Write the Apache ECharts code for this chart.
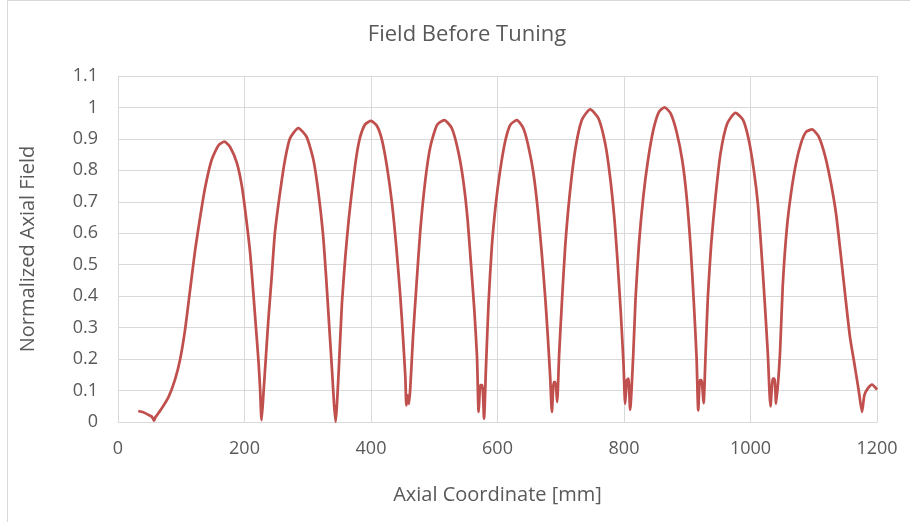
<!DOCTYPE html>
<html>
<head>
<meta charset="utf-8">
<script src="https://cdn.jsdelivr.net/npm/echarts/dist/echarts.min.js"></script>
<style>
	html, body { margin: 0; padding: 0; background: #fff; }
	#field-chart { width: 910px; height: 522px; }
</style>
</head>
<body>
<div id="field-chart"></div>
<script>
// ---------- DATA ----------
// axial coordinate (mm)
const axialPos = [
	32, 40, 48, 53, 55, 57, 59, 61, 69, 80, 90, 98, 106, 114, 122, 130, 138, 148, 159, 168,
	177, 188, 196, 203, 209, 214, 218, 222, 224.5, 227, 230, 233.5, 237.7, 243, 248, 256, 264, 272, 285,
	298, 309, 317, 324, 329, 334, 339, 341.5, 344,
	349, 354, 359.4, 364.7, 370, 376.8, 383, 391, 400, 409.5, 417.4, 425.3, 433.2, 440, 446.4, 450.6,
	454.3, 455.9, 458, 460, 462.2, 466.4, 471.7, 478, 485.9, 493.8, 504.3, 515.9, 528, 538.6, 546.5,
	552.8, 558, 563.4, 567.6, 570.2, 572.9, 576, 578.7,
	581.6, 585.8, 591, 597.4, 604.2, 612, 620, 630.6, 641, 649, 656.9, 663.8, 670, 675.4, 679.6, 683.3,
	686, 689, 691.7, 694.3, 697.5, 701.7, 707, 713.8, 722.8, 733.3, 746.5, 759.7, 770.2, 778, 785, 790,
	795, 799.2, 801.8, 804.5, 807, 809.7,
	814.7, 818.4, 823.7, 830.5, 837.9, 846.3, 855.3, 864.2, 873.7, 883.2, 892.1, 899, 905.3, 910.5,
	914.7, 917.4, 920, 922.6, 925.8, 929, 932.6, 937.9, 944.7, 952.6, 963.2, 976.3, 988.4, 997.4,
	1005.3, 1011.6, 1016.8, 1022, 1027.4, 1031.6, 1035.3, 1037.9, 1040.5,
	1046.6, 1050.9, 1057.2, 1064, 1071.9, 1079.8, 1087.7, 1097.2, 1107.8, 1118.3, 1127.3, 1135.2,
	1143.1, 1150, 1157.3, 1164.2, 1171, 1176.3, 1180, 1185.2, 1192.1, 1200
];
// normalized axial field
const fieldValues = [
	0.035, 0.031, 0.023, 0.018, 0.012, 0.004, 0.015, 0.02, 0.043, 0.08, 0.134, 0.197, 0.293, 0.42, 0.547, 0.653, 0.748, 0.833, 0.88, 0.891,
	0.875, 0.823, 0.748, 0.642, 0.536, 0.409, 0.303, 0.197, 0.112, 0.006, 0.091, 0.197, 0.324, 0.462, 0.6, 0.727, 0.833, 0.902, 0.934,
	0.907, 0.833, 0.727, 0.6, 0.462, 0.303, 0.144, 0.059, 0.001,
	0.164, 0.376, 0.525, 0.642, 0.737, 0.843, 0.907, 0.947, 0.957, 0.941, 0.896, 0.811, 0.695, 0.557, 0.398, 0.27,
	0.143, 0.053, 0.085, 0.058, 0.111, 0.27, 0.43, 0.61, 0.769, 0.875, 0.944, 0.96, 0.933, 0.854, 0.758,
	0.642, 0.504, 0.355, 0.207, 0.032, 0.117, 0.117, 0.011,
	0.164, 0.376, 0.557, 0.695, 0.8, 0.891, 0.944, 0.96, 0.933, 0.875, 0.79, 0.673, 0.536, 0.398, 0.27, 0.143,
	0.032, 0.127, 0.127, 0.064, 0.217, 0.376, 0.557, 0.716, 0.864, 0.96, 0.994, 0.965, 0.886, 0.779, 0.642, 0.504,
	0.345, 0.186, 0.058, 0.133, 0.138, 0.039,
	0.217, 0.398, 0.567, 0.716, 0.832, 0.928, 0.986, 1.0, 0.981, 0.922, 0.832, 0.716, 0.557, 0.376,
	0.207, 0.037, 0.133, 0.133, 0.06, 0.217, 0.398, 0.567, 0.716, 0.854, 0.949, 0.983, 0.96, 0.896,
	0.8, 0.695, 0.557, 0.398, 0.217, 0.05, 0.138, 0.138, 0.058,
	0.217, 0.43, 0.61, 0.726, 0.822, 0.886, 0.922, 0.93, 0.907, 0.843, 0.758, 0.663,
	0.525, 0.398, 0.27, 0.186, 0.101, 0.032, 0.085, 0.106, 0.119, 0.103
];

// ---------- CHART ----------
var fieldChart = echarts.init(document.getElementById('field-chart'));

const textColor = '#595959';
const gridColor = '#d9d9d9';
const fontName = '"Open Sans", sans-serif';

let fieldChartOptions = {
	animation: false,
	backgroundColor: '#fff',
	title: {
		text: 'Field Before Tuning',
		left: 462,
		top: 19,
		textAlign: 'center',
		textStyle: {
			color: textColor,
			fontFamily: fontName,
			fontWeight: 'normal',
			fontSize: 22
		}
	},
	graphic: [
		{
			type: 'polyline',
			shape: { points: [[7.5, 522], [7.5, 0.5], [910, 0.5]] },
			style: { stroke: gridColor, lineWidth: 1, fill: null }
		}
	],
	grid: {
		left: 118,
		right: 33,
		top: 76,
		bottom: 100
	},
	xAxis: {
		type: 'value',
		min: 0,
		max: 1200,
		interval: 200,
		name: 'Axial Coordinate [mm]',
		nameLocation: 'middle',
		nameGap: 63,
		nameTextStyle: {
			color: textColor,
			fontFamily: fontName,
			fontSize: 20
		},
		axisLine: { show: true, lineStyle: { color: gridColor } },
		axisTick: { show: false },
		axisLabel: {
			color: textColor,
			fontFamily: fontName,
			fontSize: 18,
			margin: 18,
			formatter: function (v) { return String(v); }
		},
		splitLine: { show: true, lineStyle: { color: gridColor } }
	},
	yAxis: {
		type: 'value',
		min: 0,
		max: 1.1,
		interval: 0.1,
		name: 'Normalized Axial Field',
		nameLocation: 'middle',
		nameRotate: 90,
		nameGap: 80,
		nameTextStyle: {
			color: textColor,
			fontFamily: fontName,
			fontSize: 20
		},
		axisLine: { show: true, lineStyle: { color: gridColor } },
		axisTick: { show: false },
		axisLabel: {
			color: textColor,
			fontFamily: fontName,
			fontSize: 18,
			margin: 20,
			formatter: function (v) { return String(Math.round(v * 10) / 10); }
		},
		splitLine: { show: true, lineStyle: { color: gridColor } }
	},
	series: [
		{
			name: 'Field',
			type: 'line',
			showSymbol: false,
			smooth: 0.2,
			lineStyle: {
				color: '#C0504D',
				width: 2.75
			},
			data: axialPos.map((x, i) => [x, fieldValues[i]])
		}
	]
};

fieldChart.setOption(fieldChartOptions);
</script>
</body>
</html>
